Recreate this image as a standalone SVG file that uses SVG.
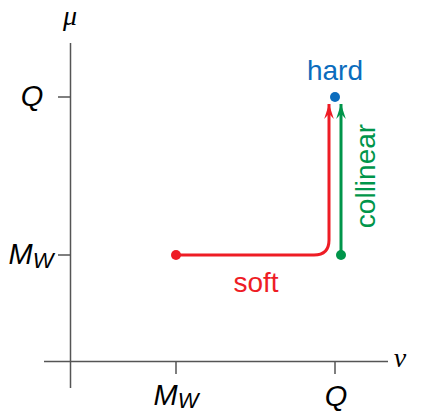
<svg xmlns="http://www.w3.org/2000/svg" width="423" height="414" viewBox="0 0 423 414">
<defs>
<style>
.ax{stroke:#555;stroke-width:1.5;fill:none}
.lbl{font-family:"Liberation Sans",Arial,sans-serif;font-style:italic;font-size:29px;fill:#000}
.sub{font-size:22px}
.greek{font-family:"Liberation Serif","Times New Roman",serif;font-style:italic;font-size:28px;fill:#000}
.tx{font-family:"Liberation Sans",Arial,sans-serif;font-size:28px}
</style>
<marker id="arR" viewBox="0 0 10 14" refX="5" refY="0" markerWidth="11" markerHeight="15" markerUnits="userSpaceOnUse" orient="0">
<path d="M5,0 L9.5,14 L5,9 L0.5,14 Z" fill="#ee1c25"/>
</marker>
<marker id="arG" viewBox="0 0 10 14" refX="5" refY="0" markerWidth="11" markerHeight="15" markerUnits="userSpaceOnUse" orient="0">
<path d="M5,0 L9.5,14 L5,9 L0.5,14 Z" fill="#00954a"/>
</marker>
</defs>
<g id="axes">
<line class="ax" x1="70.5" y1="43" x2="70.5" y2="388"/>
<line class="ax" x1="44" y1="361.5" x2="388" y2="361.5"/>
<line class="ax" x1="58" y1="97" x2="70.5" y2="97"/>
<line class="ax" x1="58" y1="255" x2="70.5" y2="255"/>
<line class="ax" x1="176" y1="361.5" x2="176" y2="374"/>
<line class="ax" x1="335" y1="361.5" x2="335" y2="374"/>
<text class="greek" x="70" y="25" text-anchor="middle">μ</text>
<text class="greek" x="400" y="367" text-anchor="middle">ν</text>
<text class="lbl" x="32" y="106" text-anchor="middle">Q</text>
<text class="lbl" x="31" y="264" text-anchor="middle">M<tspan class="sub" dy="4">W</tspan></text>
<text class="lbl" x="176" y="405" text-anchor="middle">M<tspan class="sub" dy="3">W</tspan></text>
<text class="lbl" x="336" y="406" text-anchor="middle">Q</text>
</g>
<g id="connectors">
<path d="M176,255 H314 Q329,255 329,240 V104" fill="none" stroke="#ee1c25" stroke-width="3" marker-end="url(#arR)"/>
<path d="M341,255 V104" fill="none" stroke="#00954a" stroke-width="3" marker-end="url(#arG)"/>
</g>
<g id="soft">
<circle cx="176" cy="255" r="5" fill="#ee1c25"/>
<text class="tx" x="256" y="292" text-anchor="middle" fill="#ee1c25">soft</text>
</g>
<g id="collinear">
<circle cx="341" cy="255" r="5" fill="#00954a"/>
<text class="tx" x="0" y="0" text-anchor="middle" fill="#00954a" transform="translate(375,176) rotate(-90)">collinear</text>
</g>
<g id="hard">
<circle cx="335" cy="97" r="5" fill="#0b6cbd"/>
<text class="tx" x="335" y="80" text-anchor="middle" fill="#0b6cbd">hard</text>
</g>
</svg>
